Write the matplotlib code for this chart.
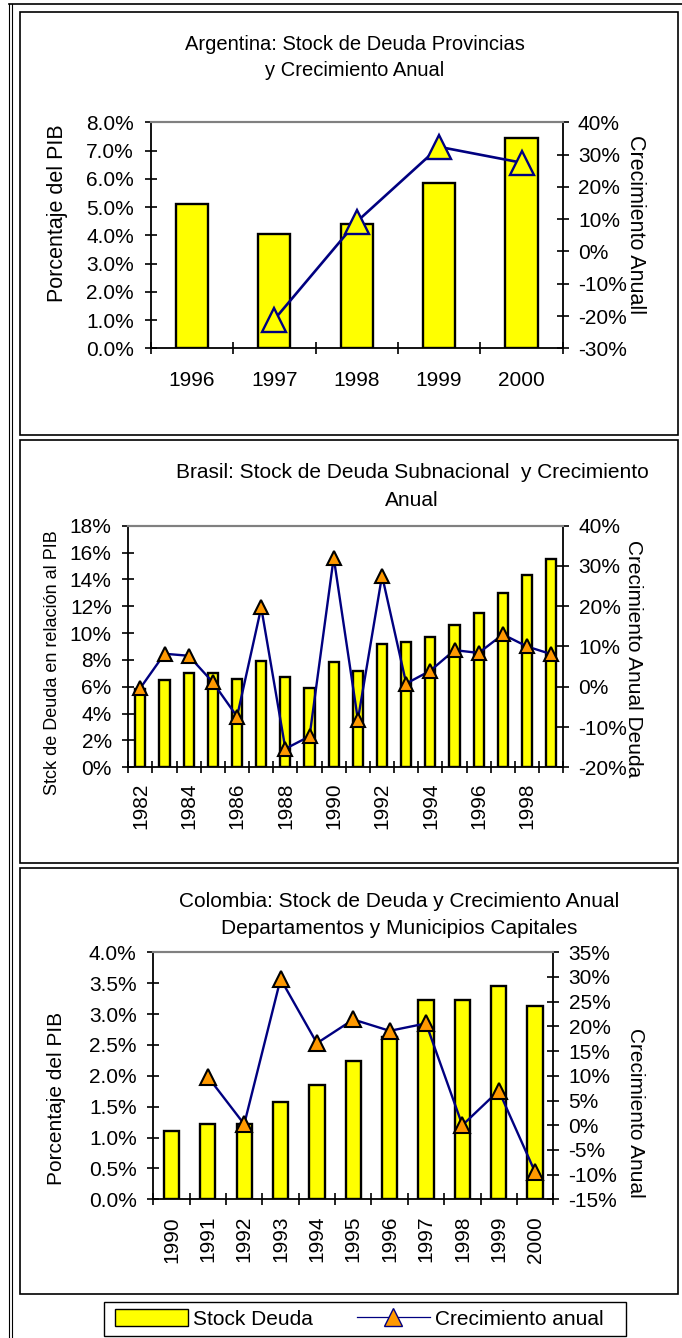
import numpy as np
import matplotlib
matplotlib.use('Agg')
import matplotlib.pyplot as plt
from matplotlib.patches import Rectangle, Patch
from matplotlib.lines import Line2D
from matplotlib.ticker import FuncFormatter

plt.rcParams['font.family'] = ['Liberation Sans', 'DejaVu Sans']

# ---------------- data ----------------
arg_years = ['1996', '1997', '1998', '1999', '2000']
arg_stock = [5.10, 4.03, 4.40, 5.84, 7.45]          # % del PIB
arg_growth = [np.nan, -21.1, 9.2, 32.4, 27.5]        # crecimiento anual %

bra_years = ['1982', '1983', '1984', '1985', '1986', '1987', '1988', '1989', '1990',
             '1991', '1992', '1993', '1994', '1995', '1996', '1997', '1998', '1999']
bra_stock = [5.8, 6.5, 7.0, 7.05, 6.6, 7.92, 6.7, 5.93, 7.82,
             7.2, 9.21, 9.34, 9.68, 10.6, 11.5, 13.0, 14.3, 15.5]
bra_growth = [-0.3, 8.2, 7.7, 1.1, -7.4, 19.7, -15.4, -12.3, 32.1,
              -8.2, 27.6, 0.8, 4.0, 9.1, 8.4, 13.0, 10.0, 8.1]

col_years = ['1990', '1991', '1992', '1993', '1994', '1995', '1996', '1997', '1998', '1999', '2000']
col_stock = [1.11, 1.22, 1.22, 1.58, 1.85, 2.245, 2.63, 3.23, 3.23, 3.46, 3.13]
col_growth = [np.nan, 9.8, 0.2, 29.6, 16.6, 21.4, 19.1, 20.6, 0.0, 7.0, -9.5]

legend_labels = ['Stock Deuda', 'Crecimiento anual']

# ---------------- styles ----------------
W, H = 682, 1338
YELLOW = '#FFFF00'
NAVY = '#000080'
ORANGE = '#FF9900'
GRAY = '#808080'

fig = plt.figure(figsize=(W / 100, H / 100), dpi=100)


def rect_px(l, t, r, b):
    return [l / W, 1 - b / H, (r - l) / W, (b - t) / H]


def fy(y):
    return 1 - y / H


def fx(x):
    return x / W


def box(l, t, r, b, lw=1.2):
    fig.add_artist(Rectangle((fx(l), fy(b)), (r - l) / W, (b - t) / H,
                             transform=fig.transFigure, fill=False,
                             ec='black', lw=lw))


def panel(pos, cats, stock, growth, y1, y1step, y1fmt, y2, y2step,
          barw, label_every, rot, xpad, ms, mfc, mec, lw, mew):
    ax = fig.add_axes(rect_px(*pos))
    n = len(cats)
    x = np.arange(n)
    ax.bar(x, stock, width=barw, color=YELLOW, edgecolor='black', linewidth=1.7, zorder=2)
    ax.set_xlim(-0.5, n - 0.5)
    ax.set_ylim(*y1)
    ax.set_yticks(np.arange(y1[0], y1[1] + y1step / 2, y1step))
    ax.yaxis.set_major_formatter(FuncFormatter(lambda v, p: y1fmt.format(v)))
    ax.set_xticks(x)
    ax.set_xticklabels([c if i % label_every == 0 else '' for i, c in enumerate(cats)],
                       rotation=rot, fontsize=15)
    ax.set_xticks(np.arange(-0.5, n), minor=True)
    ax.tick_params(axis='x', which='major', length=0, pad=xpad)
    ax.tick_params(axis='x', which='minor', direction='inout', length=9, width=1.2)
    ax.tick_params(axis='y', direction='inout', length=9, width=1.2, pad=7.5, labelsize=15)
    for s in ['left', 'bottom']:
        ax.spines[s].set_linewidth(1.3)
    ax.spines['top'].set_color(GRAY)
    ax.spines['top'].set_linewidth(1.5)
    ax.spines['right'].set_visible(False)

    ax2 = ax.twinx()
    ax2.plot(x, growth, color=NAVY, lw=lw, marker='^', ms=ms, mfc=mfc, mec=mec,
             mew=mew, clip_on=False, zorder=3)
    ax2.set_ylim(*y2)
    ax2.set_yticks(np.arange(y2[0], y2[1] + y2step / 2, y2step))
    ax2.yaxis.set_major_formatter(FuncFormatter(lambda v, p: '{:.0f}%'.format(v)))
    ax2.tick_params(axis='y', direction='inout', length=9, width=1.2, pad=6.5, labelsize=15)
    ax2.spines['right'].set_linewidth(1.3)
    ax2.spines['top'].set_color(GRAY)
    ax2.spines['top'].set_linewidth(1.5)
    ax2.spines['left'].set_visible(False)
    ax2.spines['bottom'].set_visible(False)
    return ax, ax2


# page frame
fig.add_artist(Line2D([fx(9), fx(9)], [0, fy(4)], transform=fig.transFigure, color='black', lw=0.8))
fig.add_artist(Line2D([fx(11.5), fx(11.5)], [0, fy(4)], transform=fig.transFigure, color='black', lw=0.8))
fig.add_artist(Line2D([fx(9), 1], [fy(4), fy(4)], transform=fig.transFigure, color='black', lw=1.2))

# ---------------- panel 1: Argentina ----------------
box(20, 12, 678, 435)
panel((150.7, 122.3, 562.7, 348.3), arg_years, arg_stock, arg_growth,
      (0, 8), 1.0, '{:.1f}%', (-30, 40), 10,
      0.39, 1, 0, 16, 17, YELLOW, NAVY, 1.9, 1.7)
fig.text(fx(355), fy(45), 'Argentina: Stock de Deuda Provincias', ha='center', va='center', fontsize=14.5)
fig.text(fx(355), fy(71), 'y Crecimiento Anual', ha='center', va='center', fontsize=14.5)
fig.text(fx(58), fy(213), 'Porcentaje del PIB', rotation=90, ha='center', va='center', fontsize=15.5)
fig.text(fx(635), fy(225), 'Crecimiento Anuall', rotation=-90, ha='center', va='center', fontsize=15.5)

# ---------------- panel 2: Brasil ----------------
box(20, 440, 678, 862.7)
panel((128.3, 525.7, 563.3, 767.3), bra_years, bra_stock, bra_growth,
      (0, 18), 2.0, '{:.0f}%', (-20, 40), 10,
      0.42, 2, 90, 11, 10, ORANGE, 'black', 1.7, 1.5)
fig.text(fx(412), fy(473), 'Brasil: Stock de Deuda Subnacional  y Crecimiento', ha='center', va='center', fontsize=15)
fig.text(fx(412), fy(500), 'Anual', ha='center', va='center', fontsize=15)
fig.text(fx(53), fy(663), 'Stck de Deuda en relación al PIB', rotation=90, ha='center', va='center', fontsize=13)
fig.text(fx(634), fy(659), 'Crecimiento Anual Deuda', rotation=-90, ha='center', va='center', fontsize=15)

# ---------------- panel 3: Colombia ----------------
box(20, 867.7, 678, 1294)
panel((153.3, 952.3, 553.3, 1199.3), col_years, col_stock, col_growth,
      (0, 4), 0.5, '{:.1f}%', (-15, 35), 5,
      0.42, 1, 90, 12, 11, ORANGE, 'black', 1.7, 1.5)
fig.text(fx(399), fy(901.7), 'Colombia: Stock de Deuda y Crecimiento Anual', ha='center', va='center', fontsize=15)
fig.text(fx(399), fy(928.3), 'Departamentos y Municipios Capitales', ha='center', va='center', fontsize=15)
fig.text(fx(56), fy(1098), 'Porcentaje del PIB', rotation=90, ha='center', va='center', fontsize=15)
fig.text(fx(635), fy(1113), 'Crecimiento Anual', rotation=-90, ha='center', va='center', fontsize=15)

# ---------------- legend ----------------
box(103.5, 1302, 625.5, 1335.5, lw=1.0)
handles = [Patch(facecolor=YELLOW, edgecolor='black', linewidth=1.0),
           Line2D([], [], color=NAVY, lw=0.9, marker='^', ms=13, mfc=ORANGE, mec=NAVY, mew=1.0)]
fig.legend(handles, legend_labels, loc='center left', bbox_to_anchor=(fx(115), fy(1319)),
           ncol=2, frameon=False, handlelength=3.5, handleheight=0.87, handletextpad=0.25,
           columnspacing=2.1, borderpad=0, borderaxespad=0, fontsize=15)

fig.savefig('out.png', dpi=100)
